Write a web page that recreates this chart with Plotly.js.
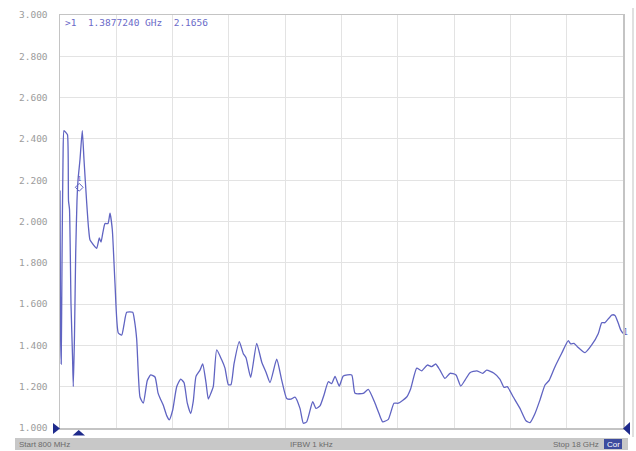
<!DOCTYPE html>
<html>
<head>
<meta charset="utf-8">
<script src="https://cdn.plot.ly/plotly-3.0.1.min.js"></script>
<style>html,body{margin:0;padding:0;background:#fff;}#chart{width:636px;height:451px;}</style>
</head>
<body>
<div id="chart"></div>
<script>
// Frequency (GHz) and VSWR values
const freqGHz = [0.800,0.818,0.837,0.861,0.892,0.922,0.983,1.029,1.060,1.090,1.136,1.182,1.206,1.243,1.280,1.319,1.350,1.411,1.481,1.533,1.616,1.671,1.717,1.808,1.921,2.001,2.053,2.114,2.175,2.266,2.328,2.398,2.480,2.581,2.685,2.755,2.838,3.021,3.076,3.143,3.244,3.345,3.467,3.571,3.702,3.794,3.855,3.956,4.060,4.139,4.243,4.365,4.488,4.588,4.689,4.793,4.872,4.955,5.077,5.160,5.260,5.331,5.413,5.483,5.587,5.740,5.841,5.942,6.024,6.116,6.278,6.400,6.483,6.626,6.809,6.962,7.094,7.216,7.421,7.573,7.726,7.857,7.979,8.132,8.233,8.337,8.520,8.621,8.743,8.865,8.997,9.101,9.202,9.333,9.455,9.712,9.813,10.066,10.219,10.424,10.546,10.659,10.830,11.004,11.135,11.392,11.514,11.698,11.850,12.021,12.156,12.278,12.409,12.562,12.715,12.898,13.042,13.173,13.326,13.530,13.714,13.836,14.059,14.242,14.365,14.465,14.649,14.853,15.037,15.159,15.312,15.464,15.617,15.749,15.923,16.127,16.329,16.402,16.503,16.604,16.839,17.044,17.246,17.350,17.450,17.655,17.756,17.856,17.929,18.000];
const vswr = [2.15,1.45,1.31,1.80,2.30,2.44,2.43,2.42,2.10,2.06,1.60,1.35,1.20,1.45,1.85,2.10,2.20,2.30,2.44,2.30,2.09,1.97,1.91,1.89,1.87,1.92,1.90,1.95,1.99,1.99,2.04,1.96,1.70,1.46,1.45,1.50,1.56,1.56,1.52,1.43,1.15,1.12,1.23,1.257,1.247,1.17,1.145,1.11,1.06,1.04,1.087,1.20,1.237,1.22,1.12,1.07,1.13,1.25,1.28,1.31,1.22,1.14,1.17,1.20,1.378,1.33,1.29,1.21,1.21,1.31,1.418,1.36,1.34,1.245,1.41,1.32,1.27,1.22,1.333,1.232,1.143,1.14,1.15,1.095,1.023,1.03,1.127,1.095,1.107,1.16,1.224,1.215,1.25,1.203,1.252,1.257,1.168,1.168,1.187,1.12,1.07,1.03,1.042,1.12,1.12,1.15,1.19,1.29,1.277,1.305,1.297,1.31,1.28,1.24,1.265,1.257,1.203,1.232,1.268,1.277,1.265,1.28,1.265,1.236,1.197,1.20,1.15,1.095,1.035,1.026,1.07,1.136,1.208,1.232,1.297,1.362,1.423,1.407,1.41,1.394,1.365,1.402,1.458,1.51,1.51,1.547,1.545,1.507,1.475,1.458];
const markerFreq = [1.3877240];
const markerVal = [2.1656];
const yTicks = [1.0,1.2,1.4,1.6,1.8,2.0,2.2,2.4,2.6,2.8,3.0];
const yTickText = ["1.000","1.200","1.400","1.600","1.800","2.000","2.200","2.400","2.600","2.800","3.000"];
const startLabel = "Start 800 MHz";
const ifbwLabel = "IFBW 1 kHz";
const stopLabel = "Stop 18 GHz";

// pixel -> paper helpers (plot area: x 60..623, y 15..428)
const PX = p => (p - 60) / 563;
const PY = p => (428 - p) / 413;
const mono = "DejaVu Sans Mono, Liberation Mono, monospace";
const traceColor = "#6064c2";
const nb = s => s.replace(/ /g, "\u00a0");

const traces = [
  {x: freqGHz, y: vswr, type: "scatter", mode: "lines",
   line: {color: traceColor, width: 1.3, shape: "spline", smoothing: 0.5}, hoverinfo: "skip", showlegend: false},
  {x: markerFreq, y: markerVal, type: "scatter", mode: "markers+text",
   marker: {symbol: "diamond-open", size: 6, color: traceColor, line: {width: 1, color: traceColor}},
   text: ["1"], textposition: "top center", textfont: {family: mono, size: 7, color: traceColor},
   hoverinfo: "skip", showlegend: false},
  {x: [freqGHz[freqGHz.length-1]], y: [vswr[vswr.length-1]], type: "scatter", mode: "text",
   text: ["1"], textposition: "middle right", textfont: {family: mono, size: 8, color: traceColor},
   hoverinfo: "skip", showlegend: false, cliponaxis: false}
];

const layout = {
  width: 636, height: 451,
  margin: {l: 60, r: 13, t: 15, b: 23, pad: 0},
  paper_bgcolor: "#ffffff", plot_bgcolor: "#ffffff",
  showlegend: false,
  xaxis: {range: [0.8, 18], tick0: 0.8, dtick: 1.72, showticklabels: false, ticks: "",
          showgrid: true, gridcolor: "#e3e3e3", gridwidth: 1, zeroline: false,
          showline: true, linecolor: "#c4c4c4", linewidth: 1.5, mirror: true, fixedrange: true},
  yaxis: {range: [1, 3], tickvals: yTicks, ticktext: yTickText, ticks: "",
          tickfont: {family: mono, size: 9.5, color: "#9c9c9c"}, ticklabelstandoff: 9,
          showgrid: true, gridcolor: "#e3e3e3", gridwidth: 1, zeroline: false,
          showline: true, linecolor: "#c4c4c4", linewidth: 1.5, mirror: true, fixedrange: true},
  shapes: [
    {type: "rect", xref: "paper", yref: "paper", x0: PX(15), x1: PX(628), y0: PY(450), y1: PY(438),
     fillcolor: "#c8c8c8", line: {width: 0}, layer: "below"},
    {type: "rect", xref: "paper", yref: "paper", x0: PX(604), x1: PX(622), y0: PY(449), y1: PY(439),
     fillcolor: "#3d4c9e", line: {width: 0}},
    {type: "line", xref: "paper", yref: "paper", x0: PX(633), x1: PX(633), y0: PY(8), y1: PY(437),
     line: {color: "#d6d6d6", width: 1.5}},
    {type: "path", xref: "paper", yref: "paper",
     path: `M ${PX(53)} ${PY(423)} L ${PX(53)} ${PY(434)} L ${PX(60)} ${PY(428.5)} Z`,
     fillcolor: "#1e2a8c", line: {width: 0}},
    {type: "path", xref: "paper", yref: "paper",
     path: `M ${PX(72.5)} ${PY(435.5)} L ${PX(85)} ${PY(435.5)} L ${PX(78.7)} ${PY(430)} Z`,
     fillcolor: "#1e2a8c", line: {width: 0}},
    {type: "path", xref: "paper", yref: "paper",
     path: `M ${PX(630)} ${PY(422)} L ${PX(630)} ${PY(435)} L ${PX(623)} ${PY(428.5)} Z`,
     fillcolor: "#1e2a8c", line: {width: 0}}
  ],
  annotations: [
    {xref: "paper", yref: "paper", x: PX(63), y: PY(23), xanchor: "left", yanchor: "middle",
     text: nb(">1  1.3877240 GHz  2.1656"), showarrow: false,
     font: {family: mono, size: 9.5, color: "#6a6ac8"}},
    {xref: "paper", yref: "paper", x: PX(17), y: PY(444.5), xanchor: "left", yanchor: "middle",
     text: startLabel, showarrow: false, font: {family: "Liberation Sans, Arial, sans-serif", size: 8, color: "#6a6a6a"}},
    {xref: "paper", yref: "paper", x: PX(311), y: PY(444.5), xanchor: "center", yanchor: "middle",
     text: ifbwLabel, showarrow: false, font: {family: "Liberation Sans, Arial, sans-serif", size: 8, color: "#6a6a6a"}},
    {xref: "paper", yref: "paper", x: PX(601), y: PY(444.5), xanchor: "right", yanchor: "middle",
     text: stopLabel, showarrow: false, font: {family: "Liberation Sans, Arial, sans-serif", size: 8, color: "#6a6a6a"}},
    {xref: "paper", yref: "paper", x: PX(613), y: PY(444), xanchor: "center", yanchor: "middle",
     text: "Cor", showarrow: false, font: {family: "Liberation Sans, Arial, sans-serif", size: 8, color: "#ffffff"}}
  ]
};

Plotly.newPlot("chart", traces, layout, {displayModeBar: false, staticPlot: true});
</script>
</body>
</html>
